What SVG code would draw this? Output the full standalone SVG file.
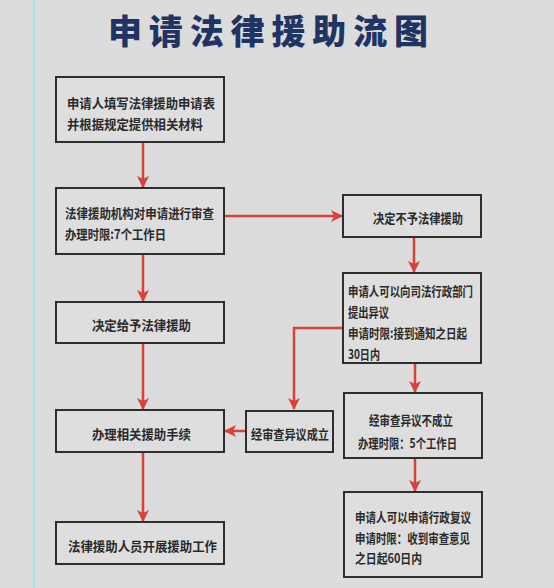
<svg xmlns="http://www.w3.org/2000/svg" width="554" height="588" viewBox="0 0 554 588">
<style>
.bg{fill:#dcdcdc}
.box rect{fill:#dedede;stroke:#2e2e2e;stroke-width:2}
.box text{font-family:"Noto Sans CJK SC","Noto Sans",sans-serif;font-weight:bold;font-size:13px;fill:#2a2a2a;dominant-baseline:central}
.title{font-family:"Noto Sans CJK SC","Noto Sans",sans-serif;font-weight:900;font-size:34px;fill:#1f3462}
#connectors path{fill:none;stroke:#d7423a;stroke-width:2.5}
</style>
<defs>
<marker id="ah" viewBox="0 0 12 12" refX="11" refY="6" markerWidth="12" markerHeight="12" markerUnits="userSpaceOnUse" orient="auto">
<path d="M0,0 L12,6 L0,12 L3,6 Z" fill="#d7423a"/>
</marker>
</defs>
<rect class="bg" x="0" y="0" width="554" height="588"/>
<line x1="34" y1="0" x2="34" y2="588" stroke="#a9dfe6" stroke-width="2"/>
<text class="title" x="108" y="44" textLength="320" lengthAdjust="spacing">申请法律援助流图</text>

<g id="connectors">
<path d="M143,143 V187" marker-end="url(#ah)"/>
<path d="M225,216 H342" marker-end="url(#ah)"/>
<path d="M143,255 V301" marker-end="url(#ah)"/>
<path d="M414,238 V272" marker-end="url(#ah)"/>
<path d="M342,328 H294 V409" marker-end="url(#ah)"/>
<path d="M245,431 H225" marker-end="url(#ah)"/>
<path d="M143,344 V409" marker-end="url(#ah)"/>
<path d="M415,364 V392" marker-end="url(#ah)"/>
<path d="M143,453 V521" marker-end="url(#ah)"/>
<path d="M415,459 V491" marker-end="url(#ah)"/>
</g>

<g id="n1" class="box"><rect x="56" y="77" width="168" height="65"/>
<text x="67" y="102" textLength="148" lengthAdjust="spacingAndGlyphs">申请人填写法律援助申请表</text>
<text x="67" y="123" textLength="136" lengthAdjust="spacingAndGlyphs">并根据规定提供相关材料</text></g>

<g id="n2" class="box"><rect x="56" y="188" width="168" height="66"/>
<text x="65" y="212" textLength="149" lengthAdjust="spacingAndGlyphs">法律援助机构对申请进行审查</text>
<text x="65" y="233" textLength="101" lengthAdjust="spacingAndGlyphs">办理时限:7个工作日</text></g>

<g id="n3" class="box"><rect x="343" y="195" width="138" height="42"/>
<text x="373" y="217" textLength="90" lengthAdjust="spacingAndGlyphs">决定不予法律援助</text></g>

<g id="n4" class="box"><rect x="343" y="273" width="138" height="90"/>
<text x="348" y="290" textLength="125" lengthAdjust="spacingAndGlyphs">申请人可以向司法行政部门</text>
<text x="348" y="311" textLength="41" lengthAdjust="spacingAndGlyphs">提出异议</text>
<text x="348" y="332" textLength="119" lengthAdjust="spacingAndGlyphs">申请时限:接到通知之日起</text>
<text x="348" y="353" textLength="32" lengthAdjust="spacingAndGlyphs">30日内</text></g>

<g id="n5" class="box"><rect x="56" y="302" width="168" height="41"/>
<text x="92" y="324" textLength="99" lengthAdjust="spacingAndGlyphs">决定给予法律援助</text></g>

<g id="n6" class="box"><rect x="246" y="411" width="87" height="41"/>
<text x="251" y="433" textLength="78" lengthAdjust="spacingAndGlyphs">经审查异议成立</text></g>

<g id="n7" class="box"><rect x="56" y="410" width="168" height="42"/>
<text x="92" y="433" textLength="99" lengthAdjust="spacingAndGlyphs">办理相关援助手续</text></g>

<g id="n8" class="box"><rect x="344" y="393" width="138" height="65"/>
<text x="369" y="419" textLength="84" lengthAdjust="spacingAndGlyphs">经审查异议不成立</text>
<text x="358" y="442" textLength="99" lengthAdjust="spacingAndGlyphs">办理时限：5个工作日</text></g>

<g id="n9" class="box"><rect x="56" y="522" width="168" height="42"/>
<text x="68" y="545" textLength="149" lengthAdjust="spacingAndGlyphs">法律援助人员开展援助工作</text></g>

<g id="n10" class="box"><rect x="344" y="492" width="138" height="85"/>
<text x="355" y="516" textLength="116" lengthAdjust="spacingAndGlyphs">申请人可以申请行政复议</text>
<text x="355" y="537" textLength="115" lengthAdjust="spacingAndGlyphs">申请时限：收到审查意见</text>
<text x="355" y="557" textLength="67" lengthAdjust="spacingAndGlyphs">之日起60日内</text></g>
</svg>
